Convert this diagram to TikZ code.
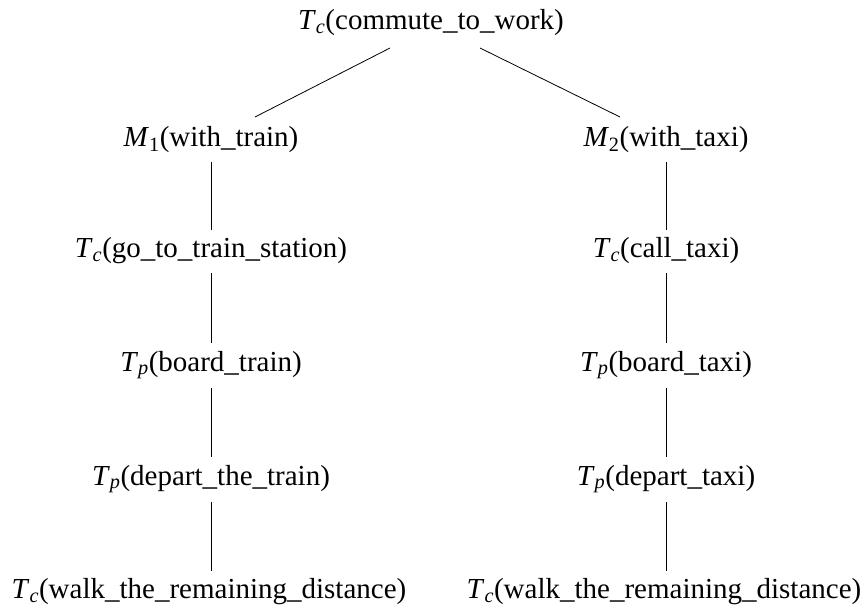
\documentclass[tikz,border=0pt]{standalone}
\usepackage{fontspec}
\setmainfont{Liberation Serif}
\newcommand\lbl[2]{\textit{#1}\textsubscript{#2}}
\begin{document}
\begin{tikzpicture}[x=1pt,y=-1pt,
  tnode/.style={inner sep=0pt, font=\fontsize{29}{34}\selectfont},
  edge/.style={draw=black, line width=0.8pt, shorten <=9pt, shorten >=8pt}]
\useasboundingbox (0,0) rectangle (862,606);
% root
\node[tnode] (root) at (431,23) {\lbl{T}{\textit{c}}(commute\_to\_work)};
% left branch
\node[tnode] (m1) at (211,140) {\lbl{M}{1}(with\_train)};
\node[tnode] (l1) at (211,251) {\lbl{T}{\textit{c}}(go\_to\_train\_station)};
\node[tnode] (l2) at (211,365) {\lbl{T}{\textit{p}}(board\_train)};
\node[tnode] (l3) at (211,479) {\lbl{T}{\textit{p}}(depart\_the\_train)};
\node[tnode] (l4) at (209,592) {\lbl{T}{\textit{c}}(walk\_the\_remaining\_distance)};
% right branch
\node[tnode] (m2) at (666,140) {\lbl{M}{2}(with\_taxi)};
\node[tnode] (r1) at (666,251) {\lbl{T}{\textit{c}}(call\_taxi)};
\node[tnode] (r2) at (666,365) {\lbl{T}{\textit{p}}(board\_taxi)};
\node[tnode] (r3) at (666,479) {\lbl{T}{\textit{p}}(depart\_taxi)};
\node[tnode] (r4) at (664,592) {\lbl{T}{\textit{c}}(walk\_the\_remaining\_distance)};
% connectors
\coordinate (rl) at (390,48);
\coordinate (rr) at (480,48);
\coordinate (m1t) at (255,117);
\coordinate (m2t) at (620,117);
\draw[draw=black, line width=0.8pt] (rl) -- (m1t);
\draw[draw=black, line width=0.8pt] (rr) -- (m2t);
\foreach \a/\b in {m1/l1,l1/l2,l2/l3,l3/l4}{
  \draw[edge] (211,0 |- \a.south) -- (211,0 |- \b.north);
}
\foreach \a/\b in {m2/r1,r1/r2,r2/r3,r3/r4}{
  \draw[edge] (666,0 |- \a.south) -- (666,0 |- \b.north);
}
\end{tikzpicture}
\end{document}
